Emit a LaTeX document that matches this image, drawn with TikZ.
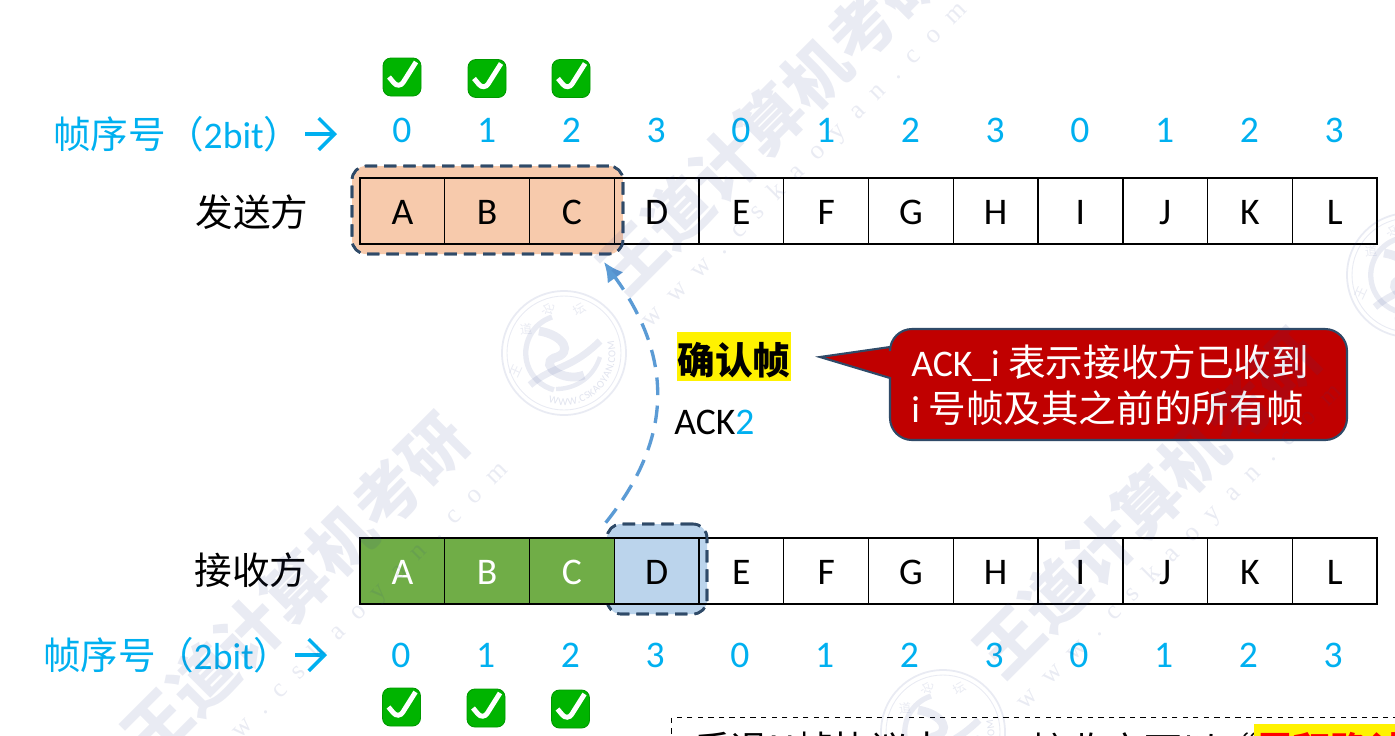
\documentclass[tikz,border=0pt]{standalone}
\usepackage{fontspec}
\setmainfont{Carlito}
\newfontfamily\cjk{Noto Sans CJK SC}
\newfontfamily\wmserif[LetterSpace=60]{Liberation Serif}
\usetikzlibrary{arrows.meta,decorations.text}
\definecolor{seqblue}{HTML}{00B0F0}
\definecolor{winorange}{HTML}{F7CAAC}
\definecolor{donegreen}{HTML}{70AD47}
\definecolor{winblue}{HTML}{BBD4EC}
\definecolor{winedge}{HTML}{2F4A68}
\definecolor{ackblue}{HTML}{5B9BD5}
\definecolor{callred}{HTML}{C00000}
\definecolor{tickgreen}{HTML}{00B400}
\definecolor{wmink}{HTML}{2B3F8C}
\tikzset{
  bigtext/.style={font=\fontsize{21.4pt}{26.5pt}\selectfont},
  cellbox/.style={draw,line width=0.8pt,minimum width=1.695cm,minimum height=1.32cm,inner sep=0pt,text height=15pt,text depth=0pt,bigtext},
  donebox/.style={cellbox,fill=donegreen,text=white},
  seqnum/.style={text=seqblue,inner sep=0pt,text height=13.5pt,text depth=0pt,bigtext},
  seqlabel/.style={text=seqblue,inner sep=0pt,anchor=west,bigtext},
  seqarrow/.style={seqblue,line width=2pt,-{Straight Barb[length=9pt,width=18pt,line width=2pt]}},
  sidelabel/.style={inner sep=0pt,bigtext},
  winbox/.style={draw=winedge,line width=1.5pt,dash pattern=on 7pt off 4pt,rounded corners=0.28cm,inner sep=0pt},
  tickbox/.style={draw=tickgreen!85!black,fill=tickgreen,line width=0.5pt,rounded corners=0.16cm,minimum size=0.76cm,inner sep=0pt,
    path picture={\draw[white,line width=2.8pt] ([shift={(-13,0)}]path picture bounding box.center) -- ([shift={(-3,12)}]path picture bounding box.center) -- ([shift={(14,-15)}]path picture bounding box.center);}},
  wmtext/.style={text=wmink,text opacity=0.1,rotate=45,inner sep=0pt},
  wmline/.style={wmink,draw opacity=0.1},
}
\newcommand{\wmlogo}[2]{
\begin{scope}[shift={(#1,#2)},yscale=-1]
\draw[wmline,line width=1pt] (0,0) circle [radius=62];
\draw[wmline,line width=0.5pt] (0,0) circle [radius=57];
\draw[wmline,line width=3pt] (-12,36) arc (108:255:38);
\draw[wmline,line width=5pt] (-25,22) .. controls (0,18) and (10,0) .. (-10,-5) .. controls (-25,-12) and (0,-30) .. (20,-22);
\draw[wmline,line width=4pt] (-34,-32) .. controls (-10,-12) and (5,-18) .. (36,12);
\draw[wmline,line width=2.5pt] (36,-4) .. controls (28,-28) and (8,-36) .. (-8,-36);
\node[wmtext,rotate=20,font=\cjk\fontsize{7pt}{7pt}\selectfont] (lz#1) at (-48,-18) {王};
\node[wmtext,rotate=-40,font=\cjk\fontsize{7pt}{7pt}\selectfont] (ld#1) at (-38,24) {道};
\node[wmtext,rotate=30,font=\cjk\fontsize{7pt}{7pt}\selectfont] (ll#1) at (-16,44) {论};
\node[wmtext,rotate=-15,font=\cjk\fontsize{7pt}{7pt}\selectfont] (lt#1) at (16,44) {坛};
\path[postaction={decorate},decoration={text along path,text align=center,raise=-2.2pt,text={|\fontsize{6pt}{6pt}\selectfont\color{wmink!14}|WWW.CSKAOYAN.COM}}] (-30,-38) arc (232:395:48);
\end{scope}
}
\begin{document}
\begin{tikzpicture}[x=0.02cm,y=-0.02cm]
\useasboundingbox (0,0) rectangle (1395,735);
\clip (0,0) rectangle (1395,735);
\fill[white] (0,0) rectangle (1395,735);

\node[winbox,fill=winorange,minimum width=5.42cm,minimum height=1.76cm] (sndwin) at (487.5,210) {};
\node[winbox,fill=winblue,minimum width=2cm,minimum height=1.8cm] (rcvwin) at (657,569) {};
\coordinate (acktip) at (604,262);
\draw[ackblue,line width=1.9pt,dash pattern=on 10pt off 6pt,-{Latex[length=11pt,width=11pt]}] (rcvwin.north west) .. controls (672,440) and (675,360) .. (acktip);

\foreach \i/\lbl/\sq in {0/A/0,1/B/1,2/C/2,3/D/3,4/E/0,5/F/1,6/G/2,7/H/3,8/I/0,9/J/1,10/K/2,11/L/3}{
  \node[cellbox] (snd\lbl) at ({402.4+84.75*\i},211) {\lbl};
  \node[seqnum] (sndseq\lbl) at ({402+84.75*\i},131) {\sq};
  \node[seqnum] (rcvseq\lbl) at ({401+84.75*\i},656) {\sq};
}
\foreach \i/\lbl in {3/D,4/E,5/F,6/G,7/H,8/I,9/J,10/K,11/L}{
  \node[cellbox] (rcv\lbl) at ({402.4+84.75*\i},571) {\lbl};
}
\node[winbox,minimum width=5.42cm,minimum height=1.76cm] (sndedge) at (sndwin) {};
\node[winbox,minimum width=2cm,minimum height=1.8cm] (rcvedge) at (rcvwin) {};
\foreach \i/\lbl in {0/A,1/B,2/C}{
  \node[donebox] (rcv\lbl) at ({402.4+84.75*\i},571) {\lbl};
}

\node[sidelabel] (sender) at (252,212) {\cjk 发送方};
\node[sidelabel] (receiver) at (251,570) {\cjk 接收方};
\node[seqlabel] (sndlabel) at (53,134) {{\cjk 帧序号（}2bit{\cjk ）}};
\node[seqlabel] (rcvlabel) at (43,655) {{\cjk 帧序号（}2bit{\cjk ）}};
\coordinate (sndarrow) at (337,134);
\coordinate (rcvarrow) at (327,655);
\draw[seqarrow] (305,134) -- (sndarrow);
\draw[seqarrow] (295,655) -- (rcvarrow);

\node[tickbox] (sndtickA) at (402,77) {};
\node[tickbox] (sndtickB) at (487,78.5) {};
\node[tickbox] (sndtickC) at (571,78.5) {};
\node[tickbox] (rcvtickA) at (401.5,707) {};
\node[tickbox] (rcvtickB) at (486,708) {};
\node[tickbox] (rcvtickC) at (570.5,709) {};

\node[fill=yellow,minimum width=2.28cm,minimum height=0.98cm,inner sep=0pt] (ackname) at (734,356.5) {};
\node[inner sep=0pt,bigtext] (acktext) at (734,360) {\cjk\bfseries 确认帧};
\node[anchor=west,inner sep=0pt,bigtext] (ackseq) at (674,422) {ACK\textcolor{seqblue}{2}};

\draw[draw=winedge,fill=callred,line width=1.2pt] (820,357) -- (890,378) [rounded corners=0.44cm] -- (890,440) -- (1347,440) -- (1347,329) -- (890,329) [sharp corners] -- (890,347) -- cycle;
\node[anchor=west,align=left,text=white,inner sep=0pt,bigtext] (ackcall) at (911,385) {ACK\_i {\cjk 表示接收方已收到}\\i {\cjk 号帧及其之前的所有帧}};

\node[draw,dashed,line width=0.7pt,minimum width=16.6cm,minimum height=1.8cm,anchor=north west] (tipnote) at (671,717) {};
\node[anchor=west,inner sep=0pt,bigtext] (tipa) at (693,750) {\cjk 后退N帧协议中，};
\node[anchor=west,inner sep=0pt,bigtext] (tipb) at (1031,750) {\cjk 接收方可以“};
\node[anchor=north west,fill=yellow,inner sep=0pt,minimum width=3.2cm,minimum height=1cm] (tiphigh) at (1254,724) {};
\node[anchor=west,inner sep=0pt,text=red,bigtext] (tipc) at (1256,750) {\cjk\bfseries 累积确认};

\node[wmtext,font=\cjk\bfseries\fontsize{37pt}{37pt}\selectfont] (wmA) at (770,120) {王道计算机考研};
\node[wmtext,font=\cjk\bfseries\fontsize{37pt}{37pt}\selectfont] (wmB) at (295,587) {王道计算机考研};
\node[wmtext,font=\cjk\bfseries\fontsize{37pt}{37pt}\selectfont] (wmC) at (1147,503) {王道计算机考研};
\node[wmtext,font=\wmserif\fontsize{15pt}{15pt}\selectfont] (urlA) at (805,165) {www.cskaoyan.com};
\node[wmtext,font=\wmserif\fontsize{15pt}{15pt}\selectfont] (urlB) at (346,625) {www.cskaoyan.com};
\node[wmtext,font=\wmserif\fontsize{15pt}{15pt}\selectfont] (urlC) at (1180,547) {www.cskaoyan.com};
\wmlogo{564}{353}
\wmlogo{1409}{275}
\wmlogo{943}{732}
\end{tikzpicture}
\end{document}
